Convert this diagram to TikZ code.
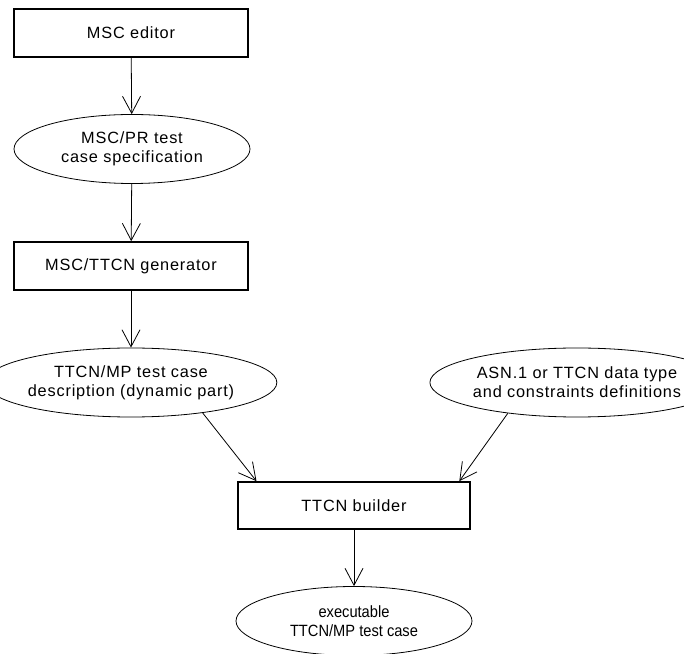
\documentclass[tikz,border=0pt]{standalone}
\usepackage{fontspec}
\setmainfont[LetterSpace=5]{Liberation Sans}
\newfontfamily\narrowsans[FakeStretch=0.9]{Liberation Sans}
\usetikzlibrary{shapes.geometric, arrows.meta}

\begin{document}
\begin{tikzpicture}[x=1pt, y=1pt,
    font=\fontsize{16.3}{19}\selectfont,
    toolbox/.style={draw, line width=1.6pt, minimum width=234, minimum height=48, inner sep=0},
    docfile/.style={draw, ellipse, line width=0.8pt, minimum width=236, minimum height=69, inner sep=0, align=center},
    flow/.style={line width=0.8pt, -{Straight Barb[length=17pt, width=18pt, line width=0.8pt]}}]
  \useasboundingbox (0, 0) rectangle (684, 653);

  % draw tools and documents
  \node [toolbox] (editor) at (131, 620) {MSC editor};
  \node [docfile] (spec) at (132, 504) {MSC/PR test\\case specification};
  \node [toolbox] (generator) at (131, 387) {MSC/TTCN generator};
  \node [docfile] (dynamic) at (131, 270.5) {TTCN/MP test case\\description (dynamic part)};
  \node [docfile] (asn) at (577, 270.5) {ASN.1 or TTCN data type\\and constraints definitions};
  \node [toolbox, minimum width=232, minimum height=47] (builder) at (354, 147.5) {TTCN builder};
  \node [docfile] (exec) at (354, 32) {\narrowsans executable\\\narrowsans TTCN/MP test case};

  % draw flow arrows
  \draw [flow] (editor) -- (spec);
  \draw [flow] (spec) -- (generator);
  \draw [flow] (generator) -- (dynamic);
  \draw [flow] (dynamic.-23) -- (builder.166);
  \draw [flow] (asn.204) -- (builder.13);
  \draw [flow] (builder) -- (exec);
\end{tikzpicture}
\end{document}
